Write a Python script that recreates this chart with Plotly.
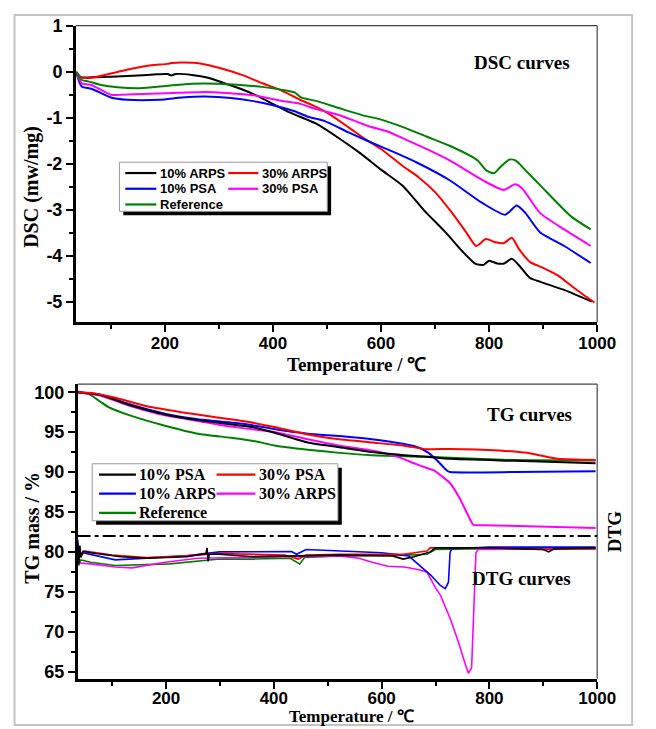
import plotly.graph_objects as go

# ---------------- DSC data (mW/mg vs temperature, deg C) ----------------
t_dsc_arps10 = [36, 45, 70, 100, 140, 180, 205, 212, 220, 250, 280, 310, 340, 370, 400, 430, 450, 480,
                520, 560, 600, 640, 680, 720, 750, 775, 790, 800, 815, 828, 842, 856, 875, 895, 940, 990]
dsc_arps10 = [0.0, -0.12, -0.12, -0.11, -0.09, -0.06, -0.05, -0.08, -0.05, -0.07, -0.13, -0.25, -0.37,
              -0.52, -0.70, -0.88, -0.98, -1.13, -1.43, -1.76, -2.13, -2.48, -3.02, -3.50, -3.90, -4.18,
              -4.20, -4.11, -4.17, -4.17, -4.07, -4.22, -4.48, -4.57, -4.75, -5.00]

t_dsc_arps30 = [36, 45, 70, 110, 140, 175, 205, 212, 235, 265, 305, 345, 380, 410, 440, 450, 470, 500,
                540, 570, 600, 640, 670, 700, 730, 758, 776, 794, 812, 827, 842, 856, 876, 897, 927, 958, 995]
dsc_arps30 = [-0.02, -0.13, -0.12, -0.01, 0.07, 0.14, 0.17, 0.19, 0.20, 0.18, 0.07, -0.08, -0.25, -0.38,
              -0.55, -0.61, -0.71, -0.89, -1.21, -1.46, -1.68, -2.05, -2.30, -2.62, -3.05, -3.50, -3.79,
              -3.64, -3.71, -3.73, -3.61, -3.87, -4.14, -4.25, -4.43, -4.71, -5.02]

t_dsc_psa10 = [36, 46, 64, 100, 130, 190, 232, 274, 322, 364, 400, 440, 465, 495, 540, 582, 624, 667,
               727, 788, 830, 851, 867, 894, 939, 988]
dsc_psa10 = [-0.02, -0.32, -0.37, -0.56, -0.61, -0.61, -0.56, -0.54, -0.57, -0.64, -0.73, -0.86, -0.98,
             -1.07, -1.32, -1.54, -1.75, -1.98, -2.36, -2.86, -3.11, -2.91, -3.07, -3.49, -3.79, -4.16]

t_dsc_psa30 = [36, 46, 64, 76, 100, 142, 202, 274, 322, 364, 415, 451, 481, 522, 576, 612, 650, 684,
               727, 788, 827, 848, 862, 894, 939, 988]
dsc_psa30 = [-0.02, -0.25, -0.29, -0.36, -0.50, -0.49, -0.47, -0.44, -0.47, -0.51, -0.63, -0.70, -0.82,
             -0.94, -1.18, -1.30, -1.50, -1.68, -1.93, -2.36, -2.57, -2.45, -2.55, -3.07, -3.43, -3.79]

t_dsc_ref = [36, 46, 58, 82, 112, 154, 202, 250, 298, 340, 380, 415, 440, 452, 481, 522, 570, 594, 642,
             684, 727, 779, 794, 809, 821, 838, 850, 867, 897, 951, 988]
dsc_ref = [-0.02, -0.18, -0.21, -0.29, -0.34, -0.36, -0.31, -0.26, -0.26, -0.29, -0.33, -0.39, -0.45,
           -0.56, -0.64, -0.79, -0.96, -1.02, -1.21, -1.41, -1.61, -1.93, -2.14, -2.21, -2.07, -1.91,
           -1.94, -2.14, -2.50, -3.14, -3.43]

# ---------------- TG data (mass %) ----------------
t_tg_psa10 = [36, 76, 137, 198, 259, 362, 403, 463, 522, 582, 642, 684, 727, 848, 997]
tg_psa10 = [100.0, 99.7, 98.3, 97.2, 96.5, 95.6, 94.9, 93.7, 93.1, 92.5, 92.1, 91.9, 91.65, 91.4, 91.1]

t_tg_psa30 = [36, 63, 106, 167, 228, 289, 343, 403, 463, 522, 582, 642, 684, 727, 818, 879, 927, 997]
tg_psa30 = [100.0, 99.9, 99.3, 98.2, 97.5, 96.9, 96.4, 95.6, 94.7, 94.1, 93.7, 93.3, 92.85, 92.9, 92.7,
            92.3, 91.65, 91.5]

t_tg_arps10 = [36, 76, 137, 198, 259, 343, 403, 463, 522, 582, 642, 667, 685, 703, 721, 727, 848, 997]
tg_arps10 = [100.0, 99.7, 98.4, 97.3, 96.6, 96.05, 95.35, 94.8, 94.5, 94.1, 93.5, 93.1, 92.5, 91.45,
             90.2, 90.0, 90.0, 90.1]

t_tg_arps30 = [36, 76, 137, 198, 259, 300, 343, 403, 463, 522, 582, 630, 660, 684, 697, 727, 745, 761,
               770, 788, 997]
tg_arps30 = [100.0, 99.6, 98.2, 97.1, 96.4, 95.9, 95.5, 95.0, 94.1, 93.3, 92.7, 91.9, 91.1, 90.5, 90.2,
             88.6, 86.7, 84.5, 83.4, 83.35, 83.0]

t_tg_ref = [36, 57, 76, 94, 137, 198, 259, 320, 362, 403, 463, 522, 582, 684, 727, 848, 997]
tg_ref = [100.0, 99.75, 98.9, 98.1, 97.0, 95.8, 94.8, 94.3, 93.9, 93.3, 92.8, 92.4, 92.1, 91.9, 91.8,
          91.5, 91.45]

# ---------------- DTG data (offset curves drawn on the TG scale) ----------------
t_dtg_psa10 = [36, 38, 40, 42, 46, 60, 116, 164, 238, 274, 276, 278, 280, 299, 362, 440, 522, 620, 640,
               660, 690, 700, 800, 900, 910, 920, 997]
dtg_psa10 = [81.2, 78.5, 80.8, 79.3, 80.1, 79.9, 79.4, 79.2, 79.4, 79.8, 80.5, 78.8, 79.7, 79.7, 79.4,
             79.5, 79.6, 79.5, 79.1, 79.4, 80.0, 80.5, 80.5, 80.3, 80.0, 80.4, 80.5]

t_dtg_psa30 = [36, 40, 50, 100, 164, 238, 300, 420, 445, 460, 522, 640, 684, 690, 800, 900, 997]
dtg_psa30 = [80.5, 79.4, 80.1, 79.6, 79.3, 79.5, 79.8, 79.6, 79.1, 79.6, 79.7, 79.7, 80.1, 80.5, 80.5,
             80.3, 80.4]

t_dtg_arps10 = [36, 38, 45, 60, 106, 238, 299, 433, 442, 460, 546, 600, 650, 667, 691, 709, 718, 724,
                727, 730, 800, 997]
dtg_arps10 = [81.5, 79.5, 79.9, 79.7, 79.0, 79.5, 80.0, 80.05, 79.7, 80.3, 80.1, 79.9, 79.5, 78.5, 77.1,
              75.8, 75.4, 76.2, 79.9, 80.4, 80.6, 80.6]

t_dtg_arps30 = [36, 40, 60, 106, 137, 198, 259, 362, 522, 558, 582, 612, 642, 667, 684, 700, 709, 727,
                742, 755, 761, 767, 771, 775, 779, 997]
dtg_arps30 = [80.0, 78.6, 78.5, 78.1, 78.0, 78.7, 79.2, 79.3, 79.5, 79.2, 78.7, 78.2, 78.1, 77.8, 77.5,
              75.5, 74.6, 71.7, 68.8, 66.0, 64.8, 65.5, 72.9, 79.9, 80.3, 80.4]

t_dtg_ref = [36, 38, 42, 60, 106, 207, 299, 362, 430, 448, 457, 522, 642, 684, 700, 800, 997]
dtg_ref = [80.0, 78.3, 79.0, 78.7, 78.3, 78.5, 79.1, 79.1, 79.2, 78.5, 79.3, 79.5, 79.6, 79.7, 80.3,
           80.4, 80.4]

# Tick labels
dsc_tickvals = [1, 0, -1, -2, -3, -4, -5]
dsc_ticktext = ["1", "0", "-1", "-2", "-3", "-4", "-5"]
tg_tickvals = [100, 95, 90, 85, 80, 75, 70, 65]
temp_tickvals = [200, 400, 600, 800, 1000]

BLACK, RED, BLUE, MAGENTA, GREEN = "#000000", "#ff0000", "#0000ff", "#ff00ff", "#008000"
W, H = 656, 729


def px(x):
    return x / W


def py(y):
    return 1 - y / H


fig = go.Figure()

dsc_series = [
    (t_dsc_arps10, dsc_arps10, BLACK, "10% ARPS"),
    (t_dsc_arps30, dsc_arps30, RED, "30% ARPS"),
    (t_dsc_psa10, dsc_psa10, BLUE, "10% PSA"),
    (t_dsc_psa30, dsc_psa30, MAGENTA, "30% PSA"),
    (t_dsc_ref, dsc_ref, GREEN, "Reference"),
]
for t, v, c, name in dsc_series:
    fig.add_trace(go.Scatter(x=t, y=v, mode="lines", name=name, showlegend=False,
                             line=dict(color=c, width=2, shape="spline", smoothing=0.6),
                             xaxis="x", yaxis="y"))

dtg_series = [
    (t_dtg_ref, dtg_ref, GREEN),
    (t_dtg_arps30, dtg_arps30, MAGENTA),
    (t_dtg_arps10, dtg_arps10, BLUE),
    (t_dtg_psa30, dtg_psa30, RED),
    (t_dtg_psa10, dtg_psa10, BLACK),
]
for t, v, c in dtg_series:
    fig.add_trace(go.Scatter(x=t, y=v, mode="lines", showlegend=False,
                             line=dict(color=c, width=1.6),
                             xaxis="x2", yaxis="y2"))

tg_series = [
    (t_tg_ref, tg_ref, GREEN, "Reference"),
    (t_tg_arps30, tg_arps30, MAGENTA, "30% ARPS"),
    (t_tg_arps10, tg_arps10, BLUE, "10% ARPS"),
    (t_tg_psa10, tg_psa10, BLACK, "10% PSA"),
    (t_tg_psa30, tg_psa30, RED, "30% PSA"),
]
for t, v, c, name in tg_series:
    fig.add_trace(go.Scatter(x=t, y=v, mode="lines", name=name, showlegend=False,
                             line=dict(color=c, width=2, shape="spline", smoothing=0.5),
                             xaxis="x2", yaxis="y2"))

ytickfont = dict(family="Liberation Sans", size=18, color="black", weight="bold")
xtickfont = dict(family="Liberation Sans", size=17, color="black", weight="bold")
axis_common = dict(showline=True, linecolor="black", linewidth=2.5, mirror=False,
                   ticks="outside", ticklen=7, tickwidth=2, tickcolor="black",
                   showgrid=False, zeroline=False)
minor_common = dict(ticks="outside", ticklen=4, tickwidth=2, tickcolor="black")

fig.update_layout(
    width=W, height=H,
    margin=dict(l=0, r=0, t=0, b=0),
    paper_bgcolor="white", plot_bgcolor="white",
    showlegend=False,
    xaxis=dict(domain=[px(78), px(615)], anchor="y", range=[35, 1000],
               tickmode="array", tickvals=temp_tickvals, tickfont=xtickfont, ticklabelstandoff=-3,
               minor=dict(tickmode="array", tickvals=[100, 300, 500, 700, 900], **minor_common),
               **axis_common),
    yaxis=dict(domain=[py(318), py(16)], anchor="x", range=[-5.45, 1.0],
               tickmode="array", tickvals=dsc_tickvals, ticktext=dsc_ticktext, tickfont=ytickfont,
               minor=dict(tickmode="array", tickvals=[0.5, -0.5, -1.5, -2.5, -3.5, -4.5], **minor_common),
               **axis_common),
    xaxis2=dict(domain=[px(80), px(615)], anchor="y2", range=[36, 1000],
                tickmode="array", tickvals=temp_tickvals, tickfont=xtickfont, ticklabelstandoff=-5,
                minor=dict(tickmode="array", tickvals=[100, 300, 500, 700, 900], **minor_common),
                **axis_common),
    yaxis2=dict(domain=[py(681), py(381)], anchor="x2", range=[64.1, 101],
                tickmode="array", tickvals=tg_tickvals, tickfont=ytickfont,
                minor=dict(tickmode="array", tickvals=[97.5, 92.5, 87.5, 82.5, 77.5, 72.5, 67.5],
                           **minor_common),
                **axis_common),
)

shapes = []
# thin top/right frame edges of both panels
for xr, yr in (("x domain", "y domain"), ("x2 domain", "y2 domain")):
    shapes.append(dict(type="line", xref=xr, yref=yr, x0=0, x1=1, y0=1, y1=1,
                       line=dict(color="#444444", width=1.2)))
    shapes.append(dict(type="line", xref=xr, yref=yr, x0=1, x1=1, y0=0, y1=1,
                       line=dict(color="#444444", width=1.2)))

# separator between TG and DTG curves
shapes.append(dict(type="line", xref="x2 domain", yref="y2", x0=0, x1=1, y0=82, y1=82,
                   line=dict(color="black", width=2, dash="13px,4px,4px,4px")))

# outer figure frame
shapes.append(dict(type="rect", xref="paper", yref="paper", x0=px(15), x1=px(651),
                   y0=py(728), y1=py(5), line=dict(color="#c4c4c4", width=2)))


def legend_box(x0, y0, x1, y1, shadow):
    shapes.append(dict(type="rect", xref="paper", yref="paper", x0=px(x0 + shadow), x1=px(x1 + shadow),
                       y0=py(y1 + shadow), y1=py(y0 + shadow), fillcolor="black",
                       line=dict(width=0), layer="above"))
    shapes.append(dict(type="rect", xref="paper", yref="paper", x0=px(x0), x1=px(x1),
                       y0=py(y1), y1=py(y0), fillcolor="white",
                       line=dict(color="#9a9a9a", width=1), layer="above"))


annotations = []


def legend_entry(xl0, xl1, y, color, label, font):
    shapes.append(dict(type="line", xref="paper", yref="paper", x0=px(xl0), x1=px(xl1),
                       y0=py(y), y1=py(y), line=dict(color=color, width=2.2), layer="above"))
    annotations.append(dict(text=label, xref="paper", yref="paper", x=px(xl1 + 1.5), y=py(y),
                            xanchor="left", yanchor="middle", showarrow=False, font=font))


# DSC legend
legend_box(123, 155, 337, 205, 4)
f_dsc = dict(family="Liberation Sans", size=13, color="black", weight="bold")
dsc_legend = [(BLACK, "10% ARPS", 0, 0), (RED, "30% ARPS", 1, 0), (BLUE, "10% PSA", 0, 1),
              (MAGENTA, "30% PSA", 1, 1), (GREEN, "Reference", 0, 2)]
for c, lab, col, row in dsc_legend:
    xl0, xl1 = (129, 161) if col == 0 else (235, 266)
    legend_entry(xl0, xl1, 166 + 16 * row, c, lab, f_dsc)

# TG legend
legend_box(95, 462, 348, 520, 4)
f_tg = dict(family="Liberation Serif", size=16, color="black", weight="bold")
tg_legend = [(BLACK, "10% PSA", 0, 0), (RED, "30% PSA", 1, 0), (BLUE, "10% ARPS", 0, 1),
             (MAGENTA, "30% ARPS", 1, 1), (GREEN, "Reference", 0, 2)]
for c, lab, col, row in tg_legend:
    xl0, xl1 = (102, 140) if col == 0 else (223, 263)
    legend_entry(xl0, xl1, 473 + 19.5 * row, c, lab, f_tg)

ytitle_font = dict(family="Liberation Serif", size=20, color="black", weight="bold")
xtitle_top_font = dict(family="Liberation Serif", size=19, color="black", weight="bold")
xtitle_bot_font = dict(family="Liberation Serif", size=17, color="black", weight="bold")
label_font = dict(family="Liberation Serif", size=19, color="black", weight="bold")
texts = [
    ("DSC (mw/mg)", 33, 180, -90, ytitle_font),
    ("Temperature / ℃", 367, 361, 0, xtitle_top_font),
    ("TG mass / %", 33, 527, -90, ytitle_font),
    ("Temperature / ℃", 362, 719, 0, xtitle_bot_font),
    ("DSC curves", 538, 53, 0, label_font),
    ("TG curves", 545, 412, 0, label_font),
    ("DTG curves", 537, 579, 0, label_font),
    ("DTG", 633, 531, -90, label_font),
]
for s, x, y, ang, f in texts:
    annotations.append(dict(text=s, xref="paper", yref="paper", x=px(x), y=py(y), textangle=ang,
                            xanchor="center", yanchor="middle", showarrow=False, font=f))

fig.update_layout(shapes=shapes, annotations=annotations)
fig.write_html("out.html")
